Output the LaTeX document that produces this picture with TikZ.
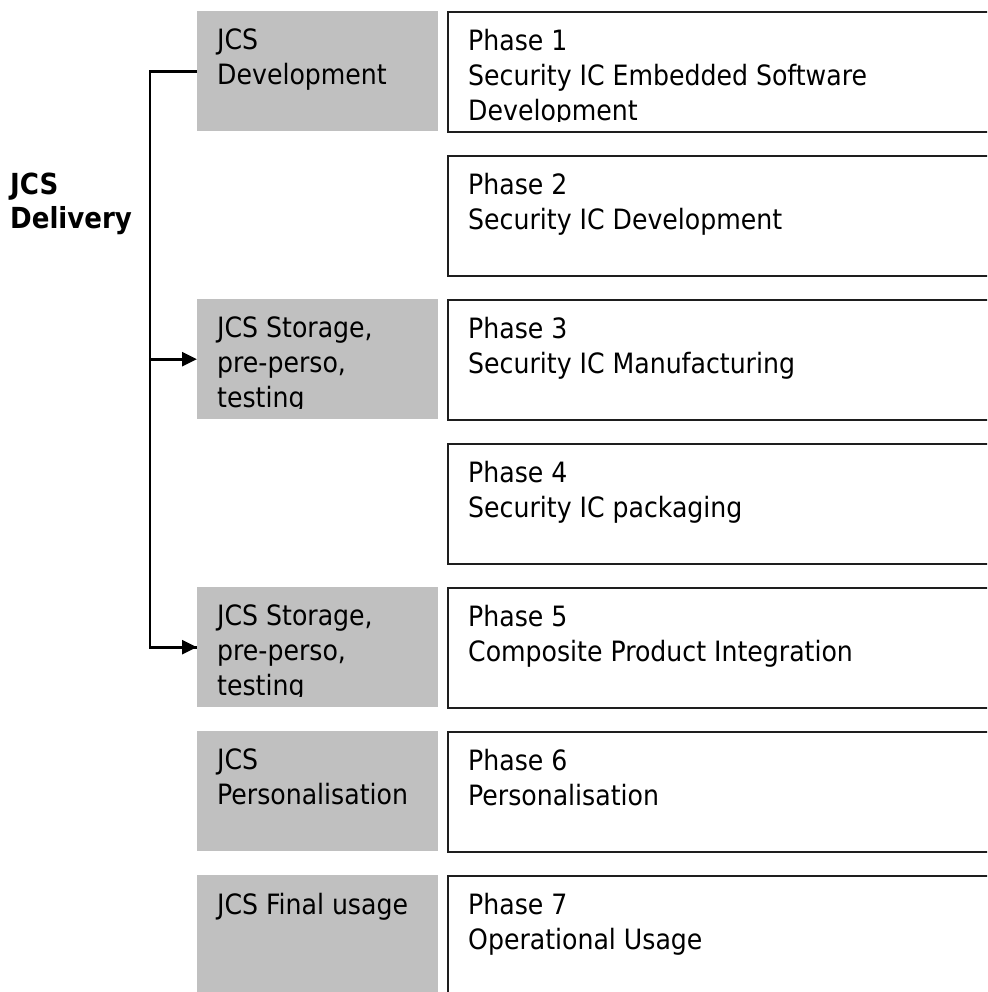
\documentclass[tikz,border=0pt]{standalone}
\usepackage{fontspec}
\setmainfont{DejaVu Sans Condensed}
\usetikzlibrary{arrows.meta}
\definecolor{cellgray}{HTML}{C0C0C0}
\definecolor{cellline}{HTML}{1E1E1E}

\tikzset{
  stage/.style={fill=cellgray, minimum width=241pt, minimum height=120pt, inner sep=0pt, anchor=north west},
  phase/.style={draw=cellline, line width=2pt, minimum width=580pt, minimum height=120pt, inner sep=0pt, anchor=north west},
  celltext/.style={anchor=north west, align=left, inner sep=0pt, font=\fontsize{28}{35}\selectfont},
  wire/.style={line width=2.7pt, black},
}

\begin{document}
\begin{tikzpicture}[x=1pt, y=-1pt]
  \useasboundingbox (0,0) rectangle (987,992);
  \clip (0,0) rectangle (987,992);

  \node[celltext, font=\fontsize{29}{34}\selectfont\bfseries] (delivery) at (10,173) {JCS\\Delivery};

  % phases
  \foreach \n/\y/\txt in {1/11/{Phase 1\\Security IC Embedded Software\\Development},
                          2/155/{Phase 2\\Security IC Development},
                          3/299/{Phase 3\\Security IC Manufacturing},
                          4/443/{Phase 4\\Security IC packaging},
                          5/587/{Phase 5\\Composite Product Integration},
                          6/731/{Phase 6\\Personalisation},
                          7/875/{Phase 7\\Operational Usage}} {
    \node[phase] (p\n) at (447,\y) {};
    \begin{scope}
      \clip ([yshift=11pt]p\n.south west) rectangle (p\n.north east);
      \node[celltext] (p\n t) at ([shift={(21pt,-18pt)}]p\n.north west) {\txt};
    \end{scope}
  }

  % JCS stages
  \foreach \n/\y/\txt in {1/11/{JCS\\Development},
                          3/299/{JCS Storage,\\pre-perso,\\testing},
                          5/587/{JCS Storage,\\pre-perso,\\testing},
                          6/731/{JCS\\Personalisation},
                          7/875/{JCS Final usage}} {
    \node[stage] (g\n) at (197,\y) {};
    \begin{scope}
      \clip ([yshift=11pt]g\n.south west) rectangle (g\n.north east);
      \node[celltext] (g\n t) at ([shift={(20pt,-18pt)}]g\n.north west) {\txt};
    \end{scope}
  }

  \coordinate (bus) at (150,0);
  \draw[wire] (g1.west) -- (g1.west -| bus) |- (g5.west);
  \draw[wire, -{Triangle[length=15pt, width=14pt]}] (g1.west -| bus) |- (g5.west);
  \draw[wire, -{Triangle[length=15pt, width=14pt]}] (g3.west -| bus) -- (g3.west);
\end{tikzpicture}
\end{document}
